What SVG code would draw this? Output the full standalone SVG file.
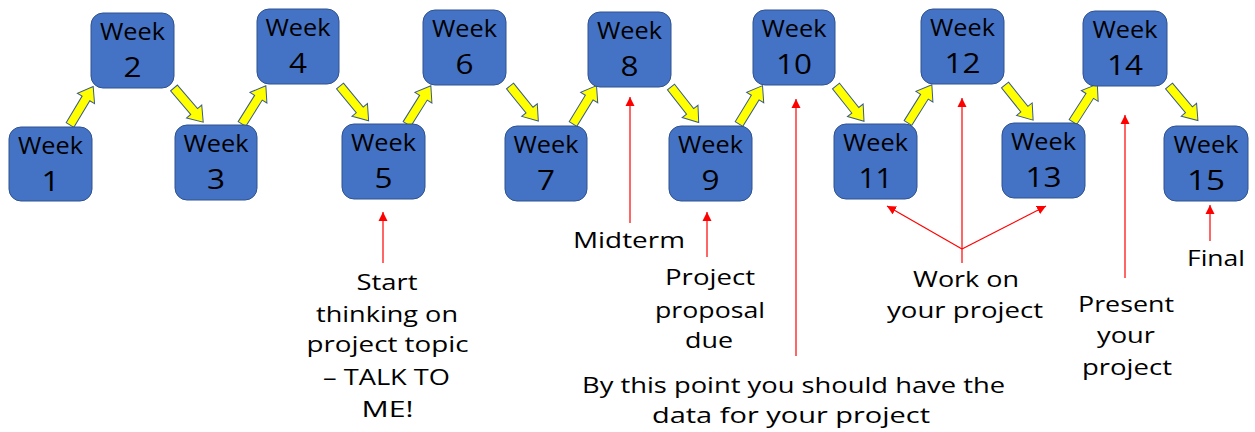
<svg xmlns="http://www.w3.org/2000/svg" width="1255" height="432" viewBox="0 0 1255 432">
<style>
.box{fill:#4472C4;stroke:#2F528F;stroke-width:1}
.wk{font-family:"Open Sans",sans-serif;font-size:24px;fill:#000;text-anchor:middle}
.num{font-family:"Open Sans",sans-serif;font-size:27px;fill:#000;text-anchor:middle}
.lbl{font-family:"Open Sans",sans-serif;font-size:22px;fill:#000;text-anchor:middle}
.ya{fill:#FFFF00;stroke:#3A5A8C;stroke-width:1}
.ra{stroke:#FF0000;stroke-width:1.2;fill:none;marker-end:url(#rh)}
</style>
<defs>
<path id="blk" d="M0,-4.5 H31 V-10 L45,0 L31,10 V4.5 H0 Z"/>
<marker id="rh" markerUnits="userSpaceOnUse" markerWidth="10" markerHeight="10" viewBox="0 0 10 10" refX="9" refY="5" orient="auto">
<path d="M0,0.5 L9,5 L0,9.5 Z" fill="#FF0000"/>
</marker>
</defs>
<g id="connectors">
<use href="#blk" class="ya" transform="translate(70,125) rotate(-59)"/>
<use href="#blk" class="ya" transform="translate(174,88) rotate(49.5)"/>
<use href="#blk" class="ya" transform="translate(242,124) rotate(-58)"/>
<use href="#blk" class="ya" transform="translate(340,86) rotate(50.5)"/>
<use href="#blk" class="ya" transform="translate(407,124) rotate(-58)"/>
<use href="#blk" class="ya" transform="translate(510,86) rotate(51)"/>
<use href="#blk" class="ya" transform="translate(573,124) rotate(-58.5)"/>
<use href="#blk" class="ya" transform="translate(671,87) rotate(52)"/>
<use href="#blk" class="ya" transform="translate(739,124) rotate(-58.5)"/>
<use href="#blk" class="ya" transform="translate(836,86) rotate(51.5)"/>
<use href="#blk" class="ya" transform="translate(908,123) rotate(-58)"/>
<use href="#blk" class="ya" transform="translate(1005,85) rotate(51.3)"/>
<use href="#blk" class="ya" transform="translate(1073,122) rotate(-57.3)"/>
<use href="#blk" class="ya" transform="translate(1169,86) rotate(50)"/>
<line class="ra" x1="383" y1="263" x2="383" y2="212"/>
<line class="ra" x1="630" y1="223" x2="630" y2="97"/>
<line class="ra" x1="707" y1="257" x2="707" y2="212"/>
<line class="ra" x1="796" y1="356" x2="796" y2="99"/>
<line class="ra" x1="962" y1="263" x2="962" y2="98"/>
<line class="ra" x1="962" y1="249" x2="887" y2="206"/>
<line class="ra" x1="962" y1="249" x2="1046" y2="206"/>
<line class="ra" x1="1125" y1="278" x2="1125" y2="115"/>
<line class="ra" x1="1210" y1="241" x2="1210" y2="205"/>
</g>
<g id="week1"><rect class="box" x="9" y="127" width="83" height="74" rx="12"/><text class="wk" x="50.5" y="154" textLength="65" lengthAdjust="spacingAndGlyphs">Week</text><text class="num" x="50.5" y="191" textLength="18" lengthAdjust="spacingAndGlyphs">1</text></g>
<g id="week2"><rect class="box" x="91" y="13" width="83" height="75" rx="12"/><text class="wk" x="132.5" y="40" textLength="65" lengthAdjust="spacingAndGlyphs">Week</text><text class="num" x="132.5" y="77" textLength="18" lengthAdjust="spacingAndGlyphs">2</text></g>
<g id="week3"><rect class="box" x="175" y="125" width="82" height="75" rx="12"/><text class="wk" x="216" y="152" textLength="65" lengthAdjust="spacingAndGlyphs">Week</text><text class="num" x="216" y="189" textLength="18" lengthAdjust="spacingAndGlyphs">3</text></g>
<g id="week4"><rect class="box" x="257" y="9" width="82" height="75" rx="12"/><text class="wk" x="298" y="36" textLength="65" lengthAdjust="spacingAndGlyphs">Week</text><text class="num" x="298" y="73" textLength="18" lengthAdjust="spacingAndGlyphs">4</text></g>
<g id="week5"><rect class="box" x="342" y="124" width="83" height="75" rx="12"/><text class="wk" x="383.5" y="151" textLength="65" lengthAdjust="spacingAndGlyphs">Week</text><text class="num" x="383.5" y="188" textLength="18" lengthAdjust="spacingAndGlyphs">5</text></g>
<g id="week6"><rect class="box" x="423" y="10" width="83" height="75" rx="12"/><text class="wk" x="464.5" y="37" textLength="65" lengthAdjust="spacingAndGlyphs">Week</text><text class="num" x="464.5" y="74" textLength="18" lengthAdjust="spacingAndGlyphs">6</text></g>
<g id="week7"><rect class="box" x="505" y="126" width="82" height="75" rx="12"/><text class="wk" x="546" y="153" textLength="65" lengthAdjust="spacingAndGlyphs">Week</text><text class="num" x="546" y="190" textLength="18" lengthAdjust="spacingAndGlyphs">7</text></g>
<g id="week8"><rect class="box" x="588" y="12" width="83" height="75" rx="12"/><text class="wk" x="629.5" y="39" textLength="65" lengthAdjust="spacingAndGlyphs">Week</text><text class="num" x="629.5" y="76" textLength="18" lengthAdjust="spacingAndGlyphs">8</text></g>
<g id="week9"><rect class="box" x="669" y="126" width="83" height="75" rx="12"/><text class="wk" x="710.5" y="153" textLength="65" lengthAdjust="spacingAndGlyphs">Week</text><text class="num" x="710.5" y="190" textLength="18" lengthAdjust="spacingAndGlyphs">9</text></g>
<g id="week10"><rect class="box" x="753" y="10" width="82" height="75" rx="12"/><text class="wk" x="794" y="37" textLength="65" lengthAdjust="spacingAndGlyphs">Week</text><text class="num" x="794" y="74" textLength="36" lengthAdjust="spacingAndGlyphs">10</text></g>
<g id="week11"><rect class="box" x="834" y="124" width="83" height="75" rx="12"/><text class="wk" x="875.5" y="151" textLength="65" lengthAdjust="spacingAndGlyphs">Week</text><text class="num" x="875.5" y="188" textLength="34" lengthAdjust="spacingAndGlyphs">11</text></g>
<g id="week12"><rect class="box" x="921" y="9" width="83" height="75" rx="12"/><text class="wk" x="962.5" y="36" textLength="65" lengthAdjust="spacingAndGlyphs">Week</text><text class="num" x="962.5" y="73" textLength="36" lengthAdjust="spacingAndGlyphs">12</text></g>
<g id="week13"><rect class="box" x="1002" y="123" width="83" height="75" rx="12"/><text class="wk" x="1043.5" y="150" textLength="65" lengthAdjust="spacingAndGlyphs">Week</text><text class="num" x="1043.5" y="187" textLength="36" lengthAdjust="spacingAndGlyphs">13</text></g>
<g id="week14"><rect class="box" x="1083" y="11" width="84" height="75" rx="12"/><text class="wk" x="1125" y="38" textLength="65" lengthAdjust="spacingAndGlyphs">Week</text><text class="num" x="1125" y="75" textLength="36" lengthAdjust="spacingAndGlyphs">14</text></g>
<g id="week15"><rect class="box" x="1164" y="126" width="84" height="75" rx="12"/><text class="wk" x="1206" y="153" textLength="65" lengthAdjust="spacingAndGlyphs">Week</text><text class="num" x="1206" y="190" textLength="38" lengthAdjust="spacingAndGlyphs">15</text></g>
<g id="labels">
<text class="lbl" x="387" y="290" textLength="61" lengthAdjust="spacingAndGlyphs">Start</text>
<text class="lbl" x="387" y="322" textLength="142" lengthAdjust="spacingAndGlyphs">thinking on</text>
<text class="lbl" x="387.5" y="352" textLength="162" lengthAdjust="spacingAndGlyphs">project topic</text>
<text class="lbl" x="386.5" y="385" textLength="127" lengthAdjust="spacingAndGlyphs">– TALK TO</text>
<text class="lbl" x="387.5" y="417" textLength="52" lengthAdjust="spacingAndGlyphs">ME!</text>
<text class="lbl" x="629" y="248" textLength="112" lengthAdjust="spacingAndGlyphs">Midterm</text>
<text class="lbl" x="710" y="285" textLength="90" lengthAdjust="spacingAndGlyphs">Project</text>
<text class="lbl" x="710" y="318" textLength="110" lengthAdjust="spacingAndGlyphs">proposal</text>
<text class="lbl" x="709" y="348" textLength="48" lengthAdjust="spacingAndGlyphs">due</text>
<text class="lbl" x="793.5" y="393" textLength="423" lengthAdjust="spacingAndGlyphs">By this point you should have the</text>
<text class="lbl" x="791" y="423" textLength="278" lengthAdjust="spacingAndGlyphs">data for your project</text>
<text class="lbl" x="966" y="287" textLength="106" lengthAdjust="spacingAndGlyphs">Work on</text>
<text class="lbl" x="965" y="318" textLength="156" lengthAdjust="spacingAndGlyphs">your project</text>
<text class="lbl" x="1126" y="312" textLength="96" lengthAdjust="spacingAndGlyphs">Present</text>
<text class="lbl" x="1126" y="343" textLength="58" lengthAdjust="spacingAndGlyphs">your</text>
<text class="lbl" x="1127" y="375" textLength="90" lengthAdjust="spacingAndGlyphs">project</text>
<text class="lbl" x="1216" y="266" textLength="58" lengthAdjust="spacingAndGlyphs">Final</text>
</g>
</svg>
